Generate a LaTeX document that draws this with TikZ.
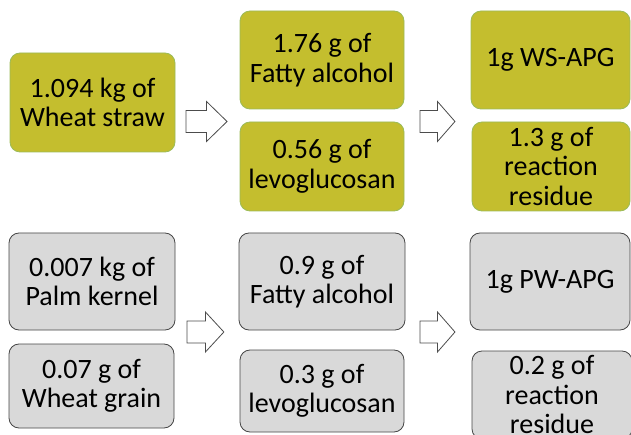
\documentclass[tikz,border=0pt]{standalone}
\usepackage{fontspec}
\setmainfont{Carlito}
\definecolor{olivefill}{RGB}{196,190,46}
\definecolor{olivedraw}{RGB}{155,187,89}
\definecolor{grayfill}{RGB}{217,217,217}
\definecolor{graydraw}{RGB}{70,70,70}
\tikzset{
  box/.style={rectangle, rounded corners=10pt, align=center, inner sep=2pt,
    font=\fontsize{28}{29.5}\selectfont, text=black, line width=0.8pt},
  greenbox/.style={box, fill=olivefill, draw=olivedraw},
  greybox/.style={box, fill=grayfill, draw=graydraw},
  blockarrow/.pic={
    \draw[fill=white, draw=black!70, line width=0.8pt, line join=miter]
      (0,-11) -- (19,-11) -- (19,-20) -- (38,0) -- (19,20) -- (19,11) -- (0,11) -- cycle;
  }
}
\begin{document}
\begin{tikzpicture}[x=1pt,y=-1pt]
\useasboundingbox (0,0) rectangle (631,435);
\clip (0,0) rectangle (631,435);
% top row
\node[greenbox, minimum width=165pt, minimum height=99pt] (A) at (92.5,102.5) {1.094 kg of\\Wheat straw};
\node[greenbox, minimum width=164pt, minimum height=98pt] (B) at (322,60) {1.76 g of\\Fatty alcohol};
\node[greenbox, minimum width=164pt, minimum height=89pt] (C) at (322,166.5) {0.56 g of\\levoglucosan};
\node[greenbox, minimum width=159pt, minimum height=98pt] (D) at (550.5,60) {1g WS-APG};
\node[greenbox, minimum width=158pt, minimum height=89pt] (E) at (551,166.5) {1.3 g of\\reaction\\residue};
\pic[xscale=1.08] (arr1) at (186,121.5) {blockarrow};
\pic[xscale=0.92] (arr2) at (420,121.5) {blockarrow};
% bottom row
\node[greybox, minimum width=166pt, minimum height=97pt] (F) at (92,281.5) {0.007 kg of\\Palm kernel};
\node[greybox, minimum width=165pt, minimum height=84pt] (G) at (91.5,386) {0.07 g of\\Wheat grain};
\node[greybox, minimum width=166pt, minimum height=97pt] (H) at (322,281.5) {0.9 g of\\Fatty alcohol};
\node[greybox, minimum width=164pt, minimum height=82pt] (I) at (322,391) {0.3 g of\\levoglucosan};
\node[greybox, minimum width=160pt, minimum height=97pt] (J) at (550,281.5) {1g PW-APG};
\node[greybox, minimum width=160pt, minimum height=88pt] (K) at (552,395) {0.2 g of\\reaction\\residue};
\pic[xscale=0.97] (arr3) at (187,332) {blockarrow};
\pic[xscale=0.92] (arr4) at (420,332) {blockarrow};
\end{tikzpicture}
\end{document}
